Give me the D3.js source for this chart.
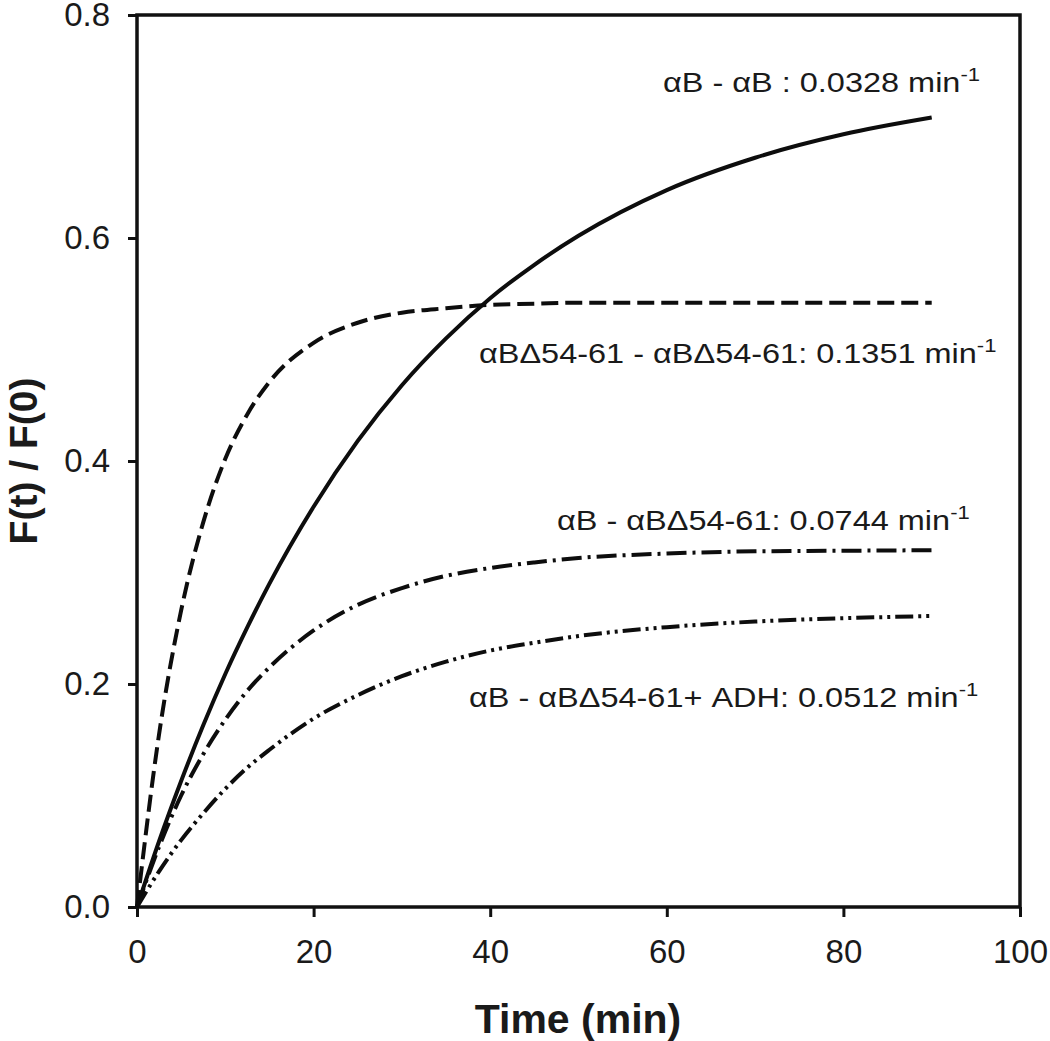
<!DOCTYPE html>
<html>
<head>
<meta charset="utf-8">
<script src="https://cdn.jsdelivr.net/npm/d3@7"></script>
<style>
  body { margin: 0; background: #fff; }
  svg { display: block; }
</style>
</head>
<body>
<div id="chart"></div>
<script>
// time points (min)
const times = [0, 2.5, 5, 7.5, 10, 12.5, 15, 20, 25, 30, 35, 40, 45, 50, 60, 70, 80, 90];

// F(t) / F(0) values
const abAb = [0, 0.059, 0.113, 0.163, 0.209, 0.251, 0.290, 0.359, 0.418, 0.468, 0.510, 0.546, 0.576, 0.602, 0.643, 0.672, 0.693, 0.708];
const delDel = [0, 0.155, 0.266, 0.345, 0.402, 0.442, 0.471, 0.506, 0.524, 0.533, 0.537, 0.540, 0.541, 0.542, 0.542, 0.542, 0.542, 0.542];
const abDel = [0, 0.054, 0.100, 0.137, 0.168, 0.194, 0.215, 0.248, 0.271, 0.286, 0.297, 0.304, 0.309, 0.313, 0.317, 0.319, 0.3195, 0.320];
const abDelAdh = [0, 0.032, 0.060, 0.084, 0.106, 0.125, 0.141, 0.169, 0.190, 0.207, 0.220, 0.230, 0.237, 0.243, 0.251, 0.256, 0.259, 0.261];

const seriesNames = ['αB - αB', 'αBΔ54-61 - αBΔ54-61', 'αB - αBΔ54-61', 'αB - αBΔ54-61+ ADH'];
const rates = ['0.0328', '0.1351', '0.0744', '0.0512'];

const xTicks = [0, 20, 40, 60, 80, 100];
const yTicks = [0, 0.2, 0.4, 0.6, 0.8];

const margin = { top: 15, right: 30, bottom: 134, left: 137 },
    width = 1050 - margin.left - margin.right,
    height = 1041 - margin.top - margin.bottom;

const svg = d3.select('#chart')
    .append('svg')
        .attr('width', width + margin.left + margin.right)
        .attr('height', height + margin.top + margin.bottom)
    .append('g')
        .attr('transform', `translate(${margin.left},${margin.top})`);

const x = d3.scaleLinear().domain([0, 100]).range([0, width]);
const y = d3.scaleLinear().domain([0, 0.8]).range([height, 0]);

// axes
const xAxis = svg.append('g')
    .attr('transform', `translate(0,${height})`)
    .call(d3.axisBottom(x).tickValues(xTicks).tickSize(10).tickSizeOuter(0).tickPadding(23).tickFormat(d3.format('d')));
const yAxis = svg.append('g')
    .call(d3.axisLeft(y).tickValues(yTicks).tickSize(9).tickSizeOuter(0).tickPadding(18).tickFormat(d3.format('.1f')));

[xAxis, yAxis].forEach(a => {
    a.select('.domain').remove();
    a.selectAll('line').attr('stroke', '#111').attr('stroke-width', 3);
    a.selectAll('text')
        .attr('fill', '#1a1a1a')
        .style('font-family', '"Liberation Sans", Arial, sans-serif')
        .style('font-size', '33px');
});

// frame
svg.append('rect')
    .attr('x', 0).attr('y', 0)
    .attr('width', width).attr('height', height)
    .attr('fill', 'none')
    .attr('stroke', '#111')
    .attr('stroke-width', 3.5);

// curves
const line = d3.line()
    .x(d => x(d[0]))
    .y(d => y(d[1]))
    .curve(d3.curveMonotoneX);

const curves = [
    { values: abAb, dash: null },
    { values: delDel, dash: '17,7' },
    { values: abDel, dash: '20,6,3,6' },
    { values: abDelAdh, dash: '18,5,3,5,3,5' }
];

curves.forEach(c => {
    svg.append('path')
        .datum(times.map((t, i) => [t, c.values[i]]))
        .attr('d', line)
        .attr('fill', 'none')
        .attr('stroke', '#0d0d0d')
        .attr('stroke-width', 4)
        .attr('stroke-dasharray', c.dash);
});

// curve labels (the original text is drawn somewhat wide)
const labelPos = [
    { x: 663, y: 92 },
    { x: 479, y: 363 },
    { x: 557, y: 530 },
    { x: 469, y: 707 }
];

seriesNames.forEach((name, i) => {
    const sep = i === 0 ? ' : ' : ': ';
    const t = svg.append('text')
        .attr('transform', `translate(${labelPos[i].x - margin.left},${labelPos[i].y - margin.top}) scale(1.16,1)`)
        .attr('fill', '#1a1a1a')
        .style('font-family', '"Liberation Sans", Arial, sans-serif')
        .style('font-size', '28px');
    t.append('tspan').text(`${name}${sep}${rates[i]} min`);
    t.append('tspan')
        .attr('dy', -11)
        .style('font-size', '19px')
        .text('-1');
});

// axis titles
svg.append('text')
    .attr('x', (578 - margin.left))
    .attr('y', 1033 - margin.top)
    .attr('text-anchor', 'middle')
    .attr('fill', '#1a1a1a')
    .style('font-family', '"Liberation Sans", Arial, sans-serif')
    .style('font-weight', 'bold')
    .style('font-size', '41px')
    .text('Time (min)');

svg.append('text')
    .attr('transform', `translate(${37 - margin.left},${461 - margin.top}) rotate(-90)`)
    .attr('text-anchor', 'middle')
    .attr('fill', '#1a1a1a')
    .style('font-family', '"Liberation Sans", Arial, sans-serif')
    .style('font-weight', 'bold')
    .style('font-size', '39px')
    .text('F(t) / F(0)');
</script>
</body>
</html>
